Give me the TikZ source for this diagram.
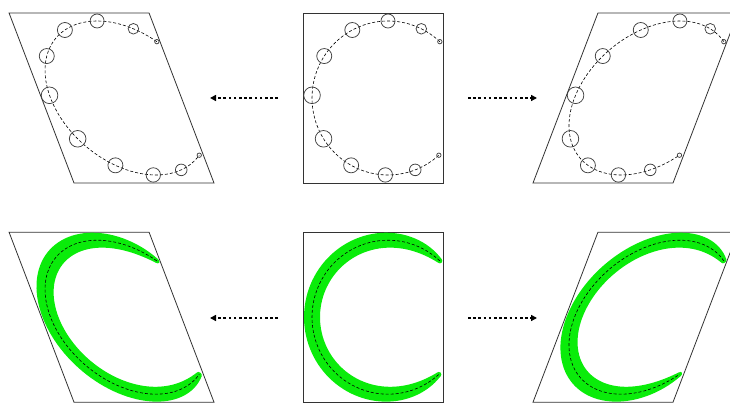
\documentclass[tikz,border=0pt]{standalone}
\usetikzlibrary{arrows.meta}

\definecolor{bandgreen}{RGB}{10,236,10}

\begin{document}
\begin{tikzpicture}[x=1pt, y=1pt,
    frame/.style={draw=black!80, line width=0.8pt},
    track/.style={densely dashed, line width=0.6pt},
    bead/.style={circle, draw=black!75, line width=0.75pt, inner sep=0pt},
    map arrow/.style={-{Triangle[length=6pt,width=6pt]}, line width=2.6pt, dash pattern=on 2.6pt off 2.6pt},
    declare function={hw(\u)=8-5.5*(2*(\u-47)/265-1)^6;}]
    \useasboundingbox (0,0) rectangle (730,403);
    \clip (0,0) rectangle (730,403);

    % three panels: sheared left, reference, sheared right
    \foreach \sx/\sl/\p in {-229/-0.382/l, 0/0/m, 230/0.382/r} {
      % Beads on the ring
      \begin{scope}[shift={(\sx,220)}, xslant=\sl]
        \draw[frame] (303,0) -- (443,0) -- (443,170) -- (303,170) -- cycle;
        \draw[track] plot[domain=47:312, samples=80, variable=\t] ({388+76*cos(\t)}, {85+77*sin(\t)});
        \foreach \a/\r [count=\i] in {47/2.2, 64/5.3, 90/7, 118/7.5, 147/7.5, 178/8.3, 212/8.3, 241/7.5, 268/7.2, 291/5.8, 312/2.2} {
          \node[bead, minimum size=2*\r pt] (bead-\p\i) at ({388+76*cos(\a)}, {85+77*sin(\a)}) {};
        }
      \end{scope}

      % Green band
      \begin{scope}[shift={(\sx,0.8)}, xslant=\sl]
        \draw[frame] (303,0) -- (443,0) -- (443,170) -- (303,170) -- cycle;
        \fill[bandgreen] plot[domain=47:312, samples=90, variable=\t] ({388+(76+hw(\t))*cos(\t)}, {85+(77+hw(\t))*sin(\t)})
          -- plot[domain=312:47, samples=90, variable=\t] ({388+(76-hw(\t))*cos(\t)}, {85+(77-hw(\t))*sin(\t)}) -- cycle;
        \fill[bandgreen] ({388+76*cos(47)}, {85+77*sin(47)}) circle[radius=2.5];
        \fill[bandgreen] ({388+76*cos(312)}, {85+77*sin(312)}) circle[radius=2.5];
        \draw[track] plot[domain=47:312, samples=80, variable=\t] ({388+76*cos(\t)}, {85+77*sin(\t)});
      \end{scope}
    }

    % Arrows between panels
    \coordinate (top-from-l) at (278,305);
    \coordinate (top-to-l) at (210,305);
    \coordinate (top-from-r) at (468,305);
    \coordinate (top-to-r) at (537,305);
    \coordinate (bot-from-l) at (278,85);
    \coordinate (bot-to-l) at (210,85);
    \coordinate (bot-from-r) at (468,85);
    \coordinate (bot-to-r) at (537,85);
    \draw[map arrow] (top-from-l) -- (top-to-l);
    \draw[map arrow] (top-from-r) -- (top-to-r);
    \draw[map arrow] (bot-from-l) -- (bot-to-l);
    \draw[map arrow] (bot-from-r) -- (bot-to-r);
\end{tikzpicture}
\end{document}
